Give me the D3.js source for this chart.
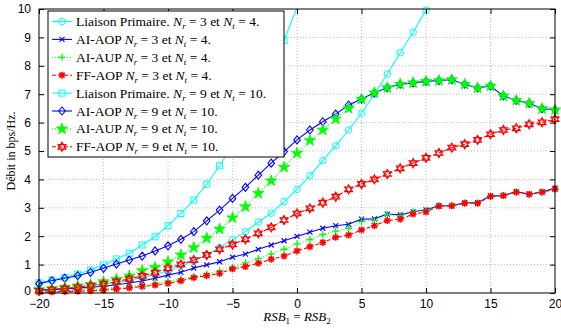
<!DOCTYPE html>
<html>
<head>
<meta charset="utf-8">
<script src="https://cdn.jsdelivr.net/npm/d3@7"></script>
<style>
  body { margin: 0; background: #fff; }
  svg { display: block; }
</style>
</head>
<body>
<svg id="chart"></svg>
<script>
// abscisse : RSB en dB
var rsb = [-20,-19,-18,-17,-16,-15,-14,-13,-12,-11,-10,-9,-8,-7,-6,-5,-4,-3,-2,-1,0,
           1,2,3,4,5,6,7,8,9,10,11,12,13,14,15,16,17,18,19,20];

// Nr = 3, Nt = 4
var lpNr3 = [0.11,0.14,0.17,0.21,0.26,0.32,0.38,0.45,0.55,0.65,0.78,0.95,1.12,1.35,1.6,1.87,2.16,2.5,2.81,3.22,3.65,
             4.13,4.66,5.19,5.74,6.33,7.0,7.71,8.46,9.18,9.96,null,null,null,null,null,null,null,null,null,null];
var aiaopNr3 = [0.1,0.12,0.14,0.17,0.2,0.24,0.29,0.35,0.42,0.52,0.63,0.73,0.88,0.99,1.1,1.26,1.37,1.54,1.69,1.84,1.99,
                2.14,2.28,2.37,2.42,2.6,2.61,2.78,2.75,2.86,2.93,3.07,3.07,3.18,3.18,3.42,3.43,3.57,3.48,3.56,3.69];
var aiaupNr3 = [0.05,0.06,0.08,0.1,0.12,0.15,0.19,0.23,0.28,0.34,0.42,0.5,0.58,0.67,0.78,0.91,1.06,1.21,1.37,1.54,1.73,
                1.88,2.06,2.18,2.28,2.51,2.56,2.76,2.72,2.86,2.92,3.06,3.07,3.17,3.17,3.41,3.43,3.56,3.48,3.55,3.67];
var ffaopNr3 = [0.03,0.04,0.05,0.06,0.08,0.1,0.14,0.18,0.23,0.28,0.34,0.43,0.54,0.61,0.69,0.85,0.93,1.05,1.19,1.3,1.48,
                1.63,1.78,1.96,2.04,2.22,2.37,2.55,2.6,2.78,2.85,3.06,3.07,3.16,3.16,3.4,3.43,3.55,3.48,3.55,3.66];

// Nr = 9, Nt = 10
var lpNr9 = [0.36,0.46,0.55,0.67,0.81,0.99,1.2,1.4,1.69,1.98,2.37,2.8,3.27,3.83,4.48,5.2,6.0,6.9,7.85,8.9,10.05,
             null,null,null,null,null,null,null,null,null,null,null,null,null,null,null,null,null,null,null,null];
var aiaopNr9 = [0.33,0.43,0.52,0.61,0.73,0.87,1.02,1.16,1.3,1.48,1.66,1.89,2.16,2.54,2.92,3.33,3.72,4.15,4.57,4.98,5.39,
                5.74,6.03,6.3,6.62,6.83,7.05,7.23,7.35,7.4,7.45,7.48,7.51,7.35,7.22,7.29,6.94,6.78,6.68,6.49,6.45];
var aiaupNr9 = [0.12,0.15,0.2,0.25,0.3,0.4,0.48,0.6,0.79,0.9,1.1,1.34,1.6,1.93,2.25,2.65,3.04,3.51,3.95,4.43,4.92,
                5.37,5.74,6.13,6.5,6.82,7.05,7.23,7.35,7.4,7.45,7.48,7.51,7.35,7.22,7.29,6.94,6.78,6.68,6.49,6.45];
var ffaopNr9 = [0.08,0.12,0.16,0.2,0.26,0.32,0.4,0.5,0.6,0.72,0.87,1.01,1.16,1.34,1.54,1.71,1.89,2.1,2.31,2.57,2.8,
                2.98,3.18,3.39,3.65,3.84,4.0,4.19,4.39,4.57,4.76,4.93,5.12,5.24,5.39,5.59,5.74,5.8,5.94,6.01,6.12];

var xTicks = [-20,-15,-10,-5,0,5,10,15,20];
var yTicks = [0,1,2,3,4,5,6,7,8,9,10];

var series = [
  {nom: "Liaison Primaire.", nr: 3, nt: 4, data: lpNr3, couleur: "#00ffff", trait: null, marque: "circle"},
  {nom: "AI-AOP", nr: 3, nt: 4, data: aiaopNr3, couleur: "#0000ff", trait: null, marque: "x"},
  {nom: "AI-AUP", nr: 3, nt: 4, data: aiaupNr3, couleur: "#00ff00", trait: "1,2", marque: "plus"},
  {nom: "FF-AOP", nr: 3, nt: 4, data: ffaopNr3, couleur: "#ff0000", trait: "4,2", marque: "asterisk"},
  {nom: "Liaison Primaire.", nr: 9, nt: 10, data: lpNr9, couleur: "#00ffff", trait: null, marque: "square"},
  {nom: "AI-AOP", nr: 9, nt: 10, data: aiaopNr9, couleur: "#0000ff", trait: null, marque: "diamond"},
  {nom: "AI-AUP", nr: 9, nt: 10, data: aiaupNr9, couleur: "#00ff00", trait: "1,2", marque: "star"},
  {nom: "FF-AOP", nr: 9, nt: 10, data: ffaopNr9, couleur: "#ff0000", trait: "4,2", marque: "hexagram"}
];

var W = 561, H = 330;
var margin = {top: 9, right: 6, bottom: 37, left: 39};
var w = W - margin.left - margin.right;
var h = H - margin.top - margin.bottom;

var svg = d3.select("#chart").attr("width", W).attr("height", H);
var g = svg.append("g").attr("transform", "translate(" + margin.left + "," + margin.top + ")");

var x = d3.scaleLinear().domain([-20, 20]).range([0, w]);
var y = d3.scaleLinear().domain([0, 10]).range([h, 0]);

/* grille pointillée */
g.selectAll(".gx").data(xTicks.slice(1, -1)).enter().append("line")
  .attr("x1", function(d){ return x(d); }).attr("x2", function(d){ return x(d); })
  .attr("y1", 0).attr("y2", h)
  .attr("stroke", "#b0b0b0").attr("stroke-width", 0.8).attr("stroke-dasharray", "1,2");
g.selectAll(".gy").data(yTicks.slice(1, -1)).enter().append("line")
  .attr("y1", function(d){ return y(d); }).attr("y2", function(d){ return y(d); })
  .attr("x1", 0).attr("x2", w)
  .attr("stroke", "#b0b0b0").attr("stroke-width", 0.8).attr("stroke-dasharray", "1,2");

svg.append("clipPath").attr("id", "clip").append("rect")
  .attr("width", w).attr("height", h);

/* marqueurs */
function hexagramme(r) {
  var p = "";
  for (var k = 0; k < 2; k++) {
    for (var i = 0; i < 3; i++) {
      var a = (k * 60 + i * 120 - 90) * Math.PI / 180;
      p += (i == 0 ? "M" : "L") + (r * Math.cos(a)).toFixed(2) + "," + (r * Math.sin(a)).toFixed(2);
    }
    p += "Z";
  }
  return p;
}

function dessinMarque(sel, type, c) {
  if (type == "circle") {
    sel.append("circle").attr("r", 3.3).attr("fill", "none").attr("stroke", c).attr("stroke-width", 1);
  } else if (type == "square") {
    sel.append("rect").attr("x", -3).attr("y", -3).attr("width", 6).attr("height", 6)
      .attr("fill", "none").attr("stroke", c).attr("stroke-width", 1);
  } else if (type == "diamond") {
    sel.append("path").attr("d", "M0,-4L3.3,0L0,4L-3.3,0Z")
      .attr("fill", "none").attr("stroke", c).attr("stroke-width", 1.1);
  } else if (type == "x") {
    sel.append("path").attr("d", "M-2.5,-2.5L2.5,2.5M-2.5,2.5L2.5,-2.5")
      .attr("stroke", c).attr("stroke-width", 1.1);
  } else if (type == "plus") {
    sel.append("path").attr("d", "M-3.5,0H3.5M0,-3.5V3.5")
      .attr("stroke", c).attr("stroke-width", 1.3);
  } else if (type == "asterisk") {
    sel.append("path").attr("d", "M-3.5,0H3.5M0,-3.5V3.5M-2.6,-2.6L2.6,2.6M-2.6,2.6L2.6,-2.6")
      .attr("stroke", c).attr("stroke-width", 1.5);
  } else if (type == "star") {
    sel.append("path").attr("d", d3.symbol(d3.symbolStar, 40)())
      .attr("fill", c).attr("stroke", c).attr("stroke-width", 0.8);
  } else if (type == "hexagram") {
    sel.append("path").attr("d", hexagramme(4.6))
      .attr("fill", "none").attr("stroke", c).attr("stroke-width", 1.1);
  }
}

var ligne = d3.line()
  .defined(function(d){ return d.v != null; })
  .x(function(d){ return x(d.x); })
  .y(function(d){ return y(d.v); });

series.forEach(function(s) {
  var pts = rsb.map(function(r, i){ return {x: r, v: s.data[i]}; });
  g.append("path").datum(pts)
    .attr("clip-path", "url(#clip)")
    .attr("d", ligne)
    .attr("fill", "none")
    .attr("stroke", s.couleur)
    .attr("stroke-width", 1.1)
    .attr("stroke-dasharray", s.trait);
  var m = g.selectAll(null)
    .data(pts.filter(function(d){ return d.v != null && d.v <= 10; }))
    .enter().append("g")
    .attr("transform", function(d){ return "translate(" + x(d.x) + "," + y(d.v) + ")"; });
  dessinMarque(m, s.marque, s.couleur);
});

/* cadre et graduations */
g.append("rect").attr("width", w).attr("height", h)
  .attr("fill", "none").attr("stroke", "#000").attr("stroke-width", 1);

var axeBas = g.append("g").attr("transform", "translate(0," + h + ")")
  .call(d3.axisBottom(x).tickValues(xTicks).tickSizeInner(-5).tickSizeOuter(0).tickPadding(6)
        .tickFormat(function(d){ return d < 0 ? "\u2212" + Math.abs(d) : d; }));
var axeHaut = g.append("g")
  .call(d3.axisTop(x).tickValues(xTicks).tickSizeInner(-5).tickSizeOuter(0).tickFormat(""));
var axeGauche = g.append("g")
  .call(d3.axisLeft(y).tickValues(yTicks).tickSizeInner(-5).tickSizeOuter(0).tickPadding(8));
var axeDroit = g.append("g").attr("transform", "translate(" + w + ",0)")
  .call(d3.axisRight(y).tickValues(yTicks).tickSizeInner(-5).tickSizeOuter(0).tickFormat(""));

[axeBas, axeHaut, axeGauche, axeDroit].forEach(function(a) {
  a.select(".domain").remove();
  a.selectAll("line").attr("stroke", "#000");
  a.selectAll("text").attr("font-family", "Liberation Sans, Arial, sans-serif")
    .attr("font-size", 12).attr("fill", "#000");
});
// le « 0 » de l'axe vertical remonte un peu pour ne pas toucher le « −20 »
axeGauche.selectAll(".tick text").filter(function(d){ return d == 0; }).attr("dy", "0.1em");

/* titres des axes */
var xl = svg.append("text")
  .attr("x", margin.left + w / 2).attr("y", 321)
  .attr("text-anchor", "middle")
  .attr("font-family", "Liberation Serif, serif").attr("font-size", 13).attr("font-style", "italic");
xl.append("tspan").text("RSB");
xl.append("tspan").attr("dy", 3).attr("font-size", 9).attr("font-style", "normal").text("1");
xl.append("tspan").attr("dy", -3).attr("font-style", "normal").text(" = ");
xl.append("tspan").text("RSB");
xl.append("tspan").attr("dy", 3).attr("font-size", 9).attr("font-style", "normal").text("2");

svg.append("text")
  .attr("transform", "translate(15," + (margin.top + h / 2) + ") rotate(-90)")
  .attr("text-anchor", "middle")
  .attr("font-family", "Liberation Serif, serif").attr("font-size", 12)
  .text("Débit in bps/Hz.");

/* légende */
var leg = svg.append("g").attr("transform", "translate(48,11)");
leg.append("rect").attr("width", 236).attr("height", 146)
  .attr("fill", "#fff").attr("stroke", "#000").attr("stroke-width", 1);

series.forEach(function(s, i) {
  var ly = 10.5 + i * 17.9;
  var row = leg.append("g").attr("transform", "translate(0," + ly + ")");
  row.append("line").attr("x1", 4).attr("x2", 24)
    .attr("stroke", s.couleur).attr("stroke-width", 1.1).attr("stroke-dasharray", s.trait);
  dessinMarque(row.append("g").attr("transform", "translate(14,0)"), s.marque, s.couleur);
  var t = row.append("text").attr("x", 28).attr("y", 4.5)
    .attr("font-family", "Liberation Serif, serif").attr("font-size", 13.5);
  t.append("tspan").text(s.nom + "  ");
  t.append("tspan").attr("font-style", "italic").text("N");
  t.append("tspan").attr("font-style", "italic").attr("font-size", 9).attr("dy", 3).text("r");
  t.append("tspan").attr("dy", -3).text(" = " + s.nr + " et ");
  t.append("tspan").attr("font-style", "italic").text("N");
  t.append("tspan").attr("font-style", "italic").attr("font-size", 9).attr("dy", 3).text("t");
  t.append("tspan").attr("dy", -3).text(" = " + s.nt + ".");
});
</script>
</body>
</html>
